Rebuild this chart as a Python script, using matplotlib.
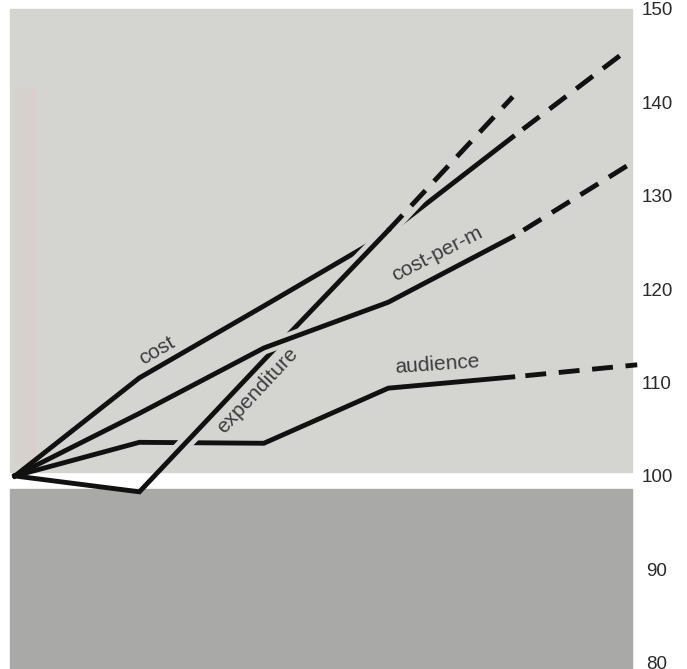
import matplotlib.pyplot as plt
from matplotlib.patches import Rectangle

# index numbers, first year = 100
years = [0, 1, 2, 3, 4]
cost = [100, 110.5, 118.2, 126.0, 136.3]
cost_per_m = [100, 106.7, 113.7, 118.6, 125.6]
audience = [100, 103.6, 103.5, 109.4, 110.6]
expenditure = [100, 98.3, 112.4, 126.3]

# projected (dashed) end points
cost_proj = (4.9, 145.4)
cpm_proj = (4.93, 133.3)
aud_proj = (5.0, 111.9)
exp_proj = (4.0, 140.6)

yticks = [80, 90, 100, 110, 120, 130, 140, 150]

plt.rcParams['font.family'] = ['Liberation Sans', 'DejaVu Sans']

light = '#d4d5d1'
dark = '#a9a9a7'
ink = '#111111'
lw = 3.5
dash = (4.3, 2.6)

fig = plt.figure(figsize=(6.87, 6.69), dpi=100)
ax = fig.add_axes([0, 0, 1, 1])
ax.set_xlim(-0.12, 5.40)
ax.set_ylim(79.33, 150.96)

# background panels
top_panel = Rectangle((-0.04, 100.45), 5.0, 49.5, color=light, zorder=0)
ax.add_patch(top_panel)
ax.add_patch(Rectangle((-0.04, 79.0), 5.0, 19.55, color=dark, zorder=0))
ax.add_patch(Rectangle((0.0, 101.5), 0.16, 40, color='#dacfcc', alpha=0.6, zorder=0.5))

# solid lines
ax.plot(years, audience, color=ink, lw=lw, zorder=3, solid_joinstyle='miter')
ax.plot(years, cost, color=ink, lw=lw, zorder=3, solid_joinstyle='miter')

# expenditure crosses on top of audience and cost: gap made with a halo
ex_x = years[1:4] + [exp_proj[0]]
ex_y = expenditure[1:4] + [exp_proj[1]]
halo, = ax.plot(ex_x, ex_y, color=light, lw=lw + 7, zorder=3.5, solid_capstyle='butt')
halo.set_clip_path(top_panel)
ax.plot(years[:4], expenditure, color=ink, lw=lw, zorder=4, solid_joinstyle='miter')
ax.plot([years[3], exp_proj[0]], [expenditure[3], exp_proj[1]], color=ink, lw=lw,
        zorder=4, linestyle=(0, dash))

# cost-per-m crosses on top of expenditure
halo2, = ax.plot(years[1:], cost_per_m[1:], color=light, lw=lw + 6, zorder=4.5,
                 solid_capstyle='butt')
halo2.set_clip_path(top_panel)
ax.plot(years, cost_per_m, color=ink, lw=lw, zorder=5, solid_joinstyle='miter')

# projections
for ys, proj in [(cost, cost_proj), (cost_per_m, cpm_proj), (audience, aud_proj)]:
    ax.plot([years[-1], proj[0]], [ys[-1], proj[1]], color=ink, lw=lw, zorder=5,
            linestyle=(dash[0], dash), clip_on=False)

# series labels
lab = dict(fontsize=15, color='#3c3c3c', ha='center', va='center',
           rotation_mode='anchor', zorder=6)
ax.text(1.14, 113.4, 'cost', rotation=30, **lab)
ax.text(1.95, 109.1, 'expenditure', rotation=47, **lab)
ax.text(3.39, 123.8, 'cost-per-m', rotation=27, **lab)
ax.text(3.39, 111.9, 'audience', rotation=4, **lab)

ax.set_xticks([])
ax.set_yticks(yticks)
ax.tick_params(axis='y', length=0, labelleft=False, labelright=True, pad=-21.6,
               labelsize=13.5, labelcolor='#2a2a2a')
for t in ax.get_yticklabels():
    t.set_ha('center')
for s in ax.spines.values():
    s.set_visible(False)

fig.savefig('out.png', dpi=100, facecolor='white')
